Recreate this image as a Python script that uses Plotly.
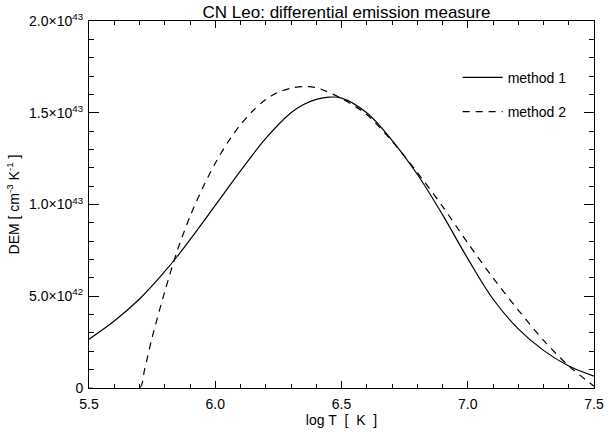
import plotly.graph_objects as go

SCALE = 1e43  # values below are in units of 1e43 cm^-3 K^-1

logT_m1 = [5.50, 5.60, 5.70, 5.80, 5.85, 5.90, 6.00, 6.10, 6.20, 6.30, 6.35, 6.40, 6.45,
           6.50, 6.60, 6.70, 6.80, 6.90, 7.00, 7.10, 7.20, 7.30, 7.40, 7.50]
dem_m1 = [0.266, 0.365, 0.485, 0.635, 0.718, 0.808, 0.995, 1.183, 1.36, 1.50, 1.545, 1.573,
          1.585, 1.58, 1.50, 1.35, 1.165, 0.945, 0.705, 0.485, 0.322, 0.205, 0.12, 0.065]

logT_m2 = [5.50, 5.70, 5.72, 5.75, 5.80, 5.85, 5.90, 5.95, 6.00, 6.05, 6.10, 6.15,
           6.20, 6.25, 6.30, 6.35, 6.40, 6.50, 6.60, 6.70, 6.80, 6.90, 7.00, 7.10,
           7.20, 7.30, 7.40, 7.50]
dem_m2 = [0.0, 0.0, 0.10, 0.275, 0.525, 0.75, 0.935, 1.09, 1.225, 1.34, 1.435, 1.512,
          1.572, 1.612, 1.634, 1.643, 1.637, 1.578, 1.49, 1.345, 1.175, 0.99, 0.79,
          0.60, 0.425, 0.26, 0.12, 0.01]

x_ticks = [5.5, 6.0, 6.5, 7.0, 7.5]
x_ticktext = ["5.5", "6.0", "6.5", "7.0", "7.5"]
y_ticks = [0, 5e42, 1.0e43, 1.5e43, 2.0e43]
y_ticktext = ["0", "5.0×10<sup>42</sup>", "1.0×10<sup>43</sup>",
              "1.5×10<sup>43</sup>", "2.0×10<sup>43</sup>"]

FONT = "Liberation Sans, Arial, sans-serif"

fig = go.Figure()
fig.add_trace(go.Scatter(
    x=logT_m1, y=[v * SCALE for v in dem_m1], mode="lines", name="method 1",
    line=dict(color="black", width=1.2, shape="spline", smoothing=1.0),
    legendgroup="a"))
fig.add_trace(go.Scatter(
    x=logT_m2, y=[v * SCALE for v in dem_m2], mode="lines", name="method 2",
    line=dict(color="black", width=1.2, dash="7px,6px", shape="spline", smoothing=0.8),
    legendgroup="b"))

axis_common = dict(
    showline=True, linecolor="black", linewidth=1, mirror="ticks",
    ticks="inside", tickcolor="black", tickwidth=1,
    showgrid=False, zeroline=False, ticklabeloverflow="allow",
    tickfont=dict(family=FONT, size=14, color="black"),
)

fig.update_xaxes(
    range=[5.5, 7.5], tickmode="array", tickvals=x_ticks, ticktext=x_ticktext,
    ticklen=7, ticklabelstandoff=3,
    minor=dict(tickmode="linear", tick0=5.5, dtick=0.1, ticks="inside", ticklen=4,
               tickcolor="black", tickwidth=1),
    title=dict(text="log T&nbsp; [&nbsp; K&nbsp; ]",
               font=dict(family=FONT, size=14, color="black"), standoff=0),
    **axis_common)
fig.update_yaxes(
    range=[0, 2.0e43], tickmode="array", tickvals=y_ticks, ticktext=y_ticktext,
    ticklen=10, ticklabelstandoff=2,
    minor=dict(tickmode="linear", tick0=0, dtick=1e42, ticks="inside", ticklen=5,
               tickcolor="black", tickwidth=1),
    title=dict(text="DEM [ cm<sup>-3</sup> K<sup>-1</sup> ]",
               font=dict(family=FONT, size=14, color="black"), standoff=6),
    **axis_common)

fig.update_layout(
    width=613, height=432,
    margin=dict(l=89, r=9, t=21, b=44),
    paper_bgcolor="white", plot_bgcolor="white",
    title=dict(text="CN Leo: differential emission measure",
               font=dict(family=FONT, size=17, color="black"),
               x=(89 + 604) / 2 / 613, xanchor="center",
               y=1 - 12.5 / 432, yanchor="middle"),
    showlegend=True,
    legend=dict(x=0.73, y=0.889, xanchor="left", yanchor="top",
                bgcolor="rgba(0,0,0,0)", borderwidth=0,
                tracegroupgap=13, itemwidth=40,
                font=dict(family=FONT, size=14, color="black")),
)

fig.write_html("out.html")
